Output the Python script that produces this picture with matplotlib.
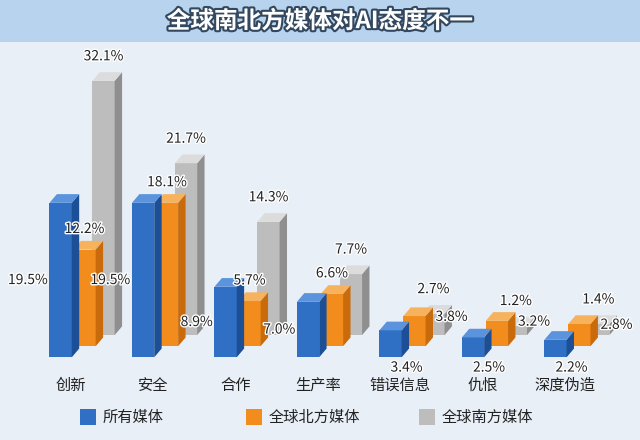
import matplotlib
matplotlib.use("Agg")
import matplotlib.pyplot as plt
from matplotlib.patches import Polygon, Rectangle
import matplotlib.patheffects as pe

plt.rcParams['font.family'] = ['Noto Sans CJK SC', 'DejaVu Sans']

categories = ['创新', '安全', '合作', '生产率', '错误信息', '仇恨', '深度伪造']
all_media = [19.5, 19.5, 8.9, 7.0, 3.4, 2.5, 2.2]
north_media = [12.2, 18.1, 5.7, 6.6, 3.8, 3.2, 2.8]
south_media = [32.1, 21.7, 14.3, 7.7, 2.7, 1.2, 1.4]
series_names = ['所有媒体', '全球北方媒体', '全球南方媒体']

colors = [('#2f6fc4', '#1c4f95', '#5b93dc'),
          ('#f28c1c', '#c96a0b', '#f7b25e'),
          ('#bdbdbd', '#8f8f8f', '#dcdcdc')]

fig = plt.figure(figsize=(6.4, 4.4), dpi=100)
fig.patch.set_facecolor('#e9eff6')
fig.patches.append(Rectangle((0, 0.905), 1, 0.095, transform=fig.transFigure,
                             facecolor='#b7d3ee', edgecolor='none'))
fig.text(0.5, 0.952, '全球南北方媒体对AI态度不一', ha='center', va='center',
         fontsize=17, fontweight='bold', color='white',
         path_effects=[pe.withStroke(linewidth=3, foreground='#33485e')])

ax = fig.add_axes([0.02, 0.17, 0.96, 0.72])
ax.set_facecolor('#e9eff6')
ax.set_xlim(-0.85, 6.6)
ax.set_ylim(-1, 39)
ax.axis('off')

w = 0.27
dx, dy = 0.09, 1.1
series = [(all_media, -0.27, 0.0), (north_media, 0.02, 1.4), (south_media, 0.25, 2.8)]
halo = [pe.withStroke(linewidth=2, foreground='white')]
for k in [2, 1, 0]:
    vals, off, base = series[k]
    face, side, top = colors[k]
    for i, v in enumerate(vals):
        x0 = i + off - w / 2
        ax.bar(x0, v, width=w, bottom=base, align='edge', color=face, zorder=3 - k)
        ax.add_patch(Polygon([(x0 + w, base), (x0 + w + dx, base + dy),
                              (x0 + w + dx, base + v + dy), (x0 + w, base + v)],
                             facecolor=side, edgecolor='none', zorder=3 - k))
        ax.add_patch(Polygon([(x0, base + v), (x0 + dx, base + v + dy),
                              (x0 + w + dx, base + v + dy), (x0 + w, base + v)],
                             facecolor=top, edgecolor='none', zorder=3 - k))
        lab = f'{v}%'
        if k == 0:
            if v > 5:
                ax.text(x0 - 0.02, base + v * 0.5, lab, ha='right', va='center',
                        fontsize=10, color='#222222', zorder=10, path_effects=halo)
            else:
                ax.text(x0 + w / 2, base - 1.3, lab, ha='left', va='center',
                        fontsize=10, color='#222222', zorder=10, path_effects=halo)
        elif k == 1:
            ax.text(x0 + w / 2 + (0 if v > 5 else 0.45), base + v + dy + (1.5 if v > 5 else -1.2), lab,
                    ha='center', va='center', fontsize=10, color='#222222', zorder=10,
                    path_effects=halo)
        else:
            ax.text(x0 + w / 2, base + v + dy + 2.0, lab, ha='center', va='center',
                    fontsize=10, color='#222222', zorder=10, path_effects=halo)

for i, c in enumerate(categories):
    ax.text(i - 0.15, -2.5, c, ha='center', va='top', fontsize=11, color='#222222')

lx = [0.16, 0.42, 0.69]
for j, name in enumerate(series_names):
    fig.patches.append(Rectangle((lx[j] - 0.035, 0.035), 0.025, 0.035,
                                 transform=fig.transFigure, facecolor=colors[j][0]))
    fig.text(lx[j], 0.052, name, ha='left', va='center', fontsize=11, color='#222222')

fig.savefig('out.png', dpi=100, facecolor=fig.get_facecolor())
